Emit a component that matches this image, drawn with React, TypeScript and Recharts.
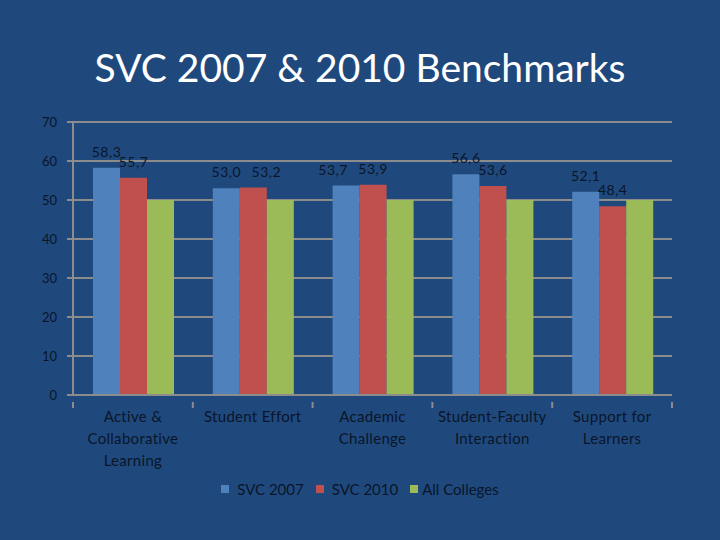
import { Bar, BarChart, CartesianGrid, LabelList, Legend, XAxis, YAxis } from "recharts";

const categories = [
  "Active & Collaborative Learning",
  "Student Effort",
  "Academic Challenge",
  "Student-Faculty Interaction",
  "Support for Learners",
];
const categoryLines = [
  ["Active &", "Collaborative", "Learning"],
  ["Student Effort"],
  ["Academic", "Challenge"],
  ["Student-Faculty", "Interaction"],
  ["Support for", "Learners"],
];
const svc2007 = [58.3, 53.0, 53.7, 56.6, 52.1];
const svc2010 = [55.7, 53.2, 53.9, 53.6, 48.4];
const allColleges = [50, 50, 50, 50, 50];
const yTicks = [0, 10, 20, 30, 40, 50, 60, 70];

const series = [
  { key: "svc2007", name: "SVC 2007", color: "#4f81bd" },
  { key: "svc2010", name: "SVC 2010", color: "#c0504d" },
  { key: "allColleges", name: "All Colleges", color: "#9bbb59" },
];

// sideways nudge for value labels that would otherwise crowd each other
const labelNudge: Record<string, number[]> = {
  svc2007: [0, 0, -13, 0, 0],
  svc2010: [0, 13, 0, 0, 0],
};

const data = categories.map((name, i) => ({
  name,
  svc2007: svc2007[i],
  svc2010: svc2010[i],
  allColleges: allColleges[i],
}));

const BG = "#1f497d";
const INK = "#0a1529";
const GRID = "#8c8c8c";
const FONT = "Lato, 'Open Sans', sans-serif";

const PLOT_LEFT = 73;
const PLOT_RIGHT = 672;
const BAND = (PLOT_RIGHT - PLOT_LEFT) / categories.length;

const fmt = (v: number) => v.toFixed(1).replace(".", ",");

function CategoryTick(props: any) {
  const { x, y, payload, index } = props;
  const lines = categoryLines[index] ?? [payload.value];
  const left = x - BAND / 2;
  return (
    <g>
      <line x1={left} y1={y - 1} x2={left} y2={y + 5} stroke={GRID} strokeWidth={2} />
      {index === categories.length - 1 && (
        <line x1={x + BAND / 2} y1={y - 1} x2={x + BAND / 2} y2={y + 5} stroke={GRID} strokeWidth={2} />
      )}
      <text x={x} y={y + 19} textAnchor="middle" fill={INK} fontSize={15} fontFamily={FONT} letterSpacing={0.3}>
        {lines.map((l: string, i: number) => (
          <tspan key={i} x={x} dy={i === 0 ? 0 : 22}>
            {l}
          </tspan>
        ))}
      </text>
    </g>
  );
}

function makeValueLabel(key: string) {
  return (props: any) => {
    const { x, y, width, value, index } = props;
    const dx = labelNudge[key]?.[index] ?? 0;
    return (
      <text
        x={Number(x) + Number(width) / 2 + dx}
        y={Number(y) - 11}
        textAnchor="middle"
        fill={INK}
        fontSize={14}
        letterSpacing={0.5}
        fontFamily={FONT}
      >
        {fmt(Number(value))}
      </text>
    );
  };
}

function LegendContent() {
  return (
    <div style={{ display: "flex", justifyContent: "center", alignItems: "center", fontSize: 15, color: INK, fontFamily: FONT }}>
      {series.map((s, i) => (
        <div key={s.key} style={{ display: "flex", alignItems: "center", marginRight: i < series.length - 1 ? 12 : 0 }}>
          <span style={{ display: "inline-block", width: 8, height: 8, background: s.color, marginRight: i < 2 ? 8 : 4 }} />
          <span>{s.name}</span>
        </div>
      ))}
    </div>
  );
}

export default function App() {
  return (
    <div style={{ position: "absolute", left: 0, top: 0, width: 720, height: 540, background: BG, fontFamily: FONT }}>
      <div
        style={{
          position: "absolute",
          top: 41,
          width: 720,
          textAlign: "center",
          color: "#ffffff",
          fontSize: 39,
          lineHeight: "52px",
        }}
      >
        SVC 2007 &amp; 2010 Benchmarks
      </div>
      <BarChart
        width={720}
        height={540}
        data={data}
        margin={{ top: 122, right: 720 - PLOT_RIGHT, bottom: 32, left: 0 }}
        barCategoryGap={20}
        barGap={0}
      >
        <CartesianGrid horizontal vertical={false} stroke={GRID} strokeWidth={2} />
        <YAxis
          width={PLOT_LEFT}
          domain={[0, 70]}
          ticks={yTicks}
          interval={0}
          stroke={GRID}
          strokeWidth={2}
          tickSize={6}
          tickMargin={10}
          tick={{ fill: INK, fontSize: 13, fontFamily: FONT }}
        />
        <XAxis
          dataKey="name"
          height={95}
          interval={0}
          stroke={GRID}
          strokeWidth={2}
          tickLine={false}
          tick={<CategoryTick />}
        />
        <Legend
          verticalAlign="bottom"
          content={<LegendContent />}
          wrapperStyle={{ top: 480, bottom: "auto", left: 0, width: 720 }}
        />
        {series.map((s) => (
          <Bar key={s.key} dataKey={s.key} name={s.name} fill={s.color} isAnimationActive={false}>
            {s.key !== "allColleges" && <LabelList dataKey={s.key} content={makeValueLabel(s.key)} />}
          </Bar>
        ))}
      </BarChart>
    </div>
  );
}
